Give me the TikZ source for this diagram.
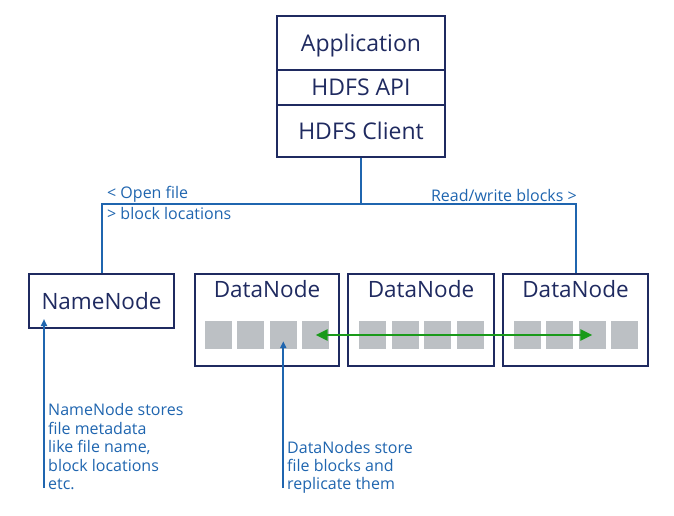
\documentclass[tikz,border=0pt]{standalone}
\usepackage{fontspec}
\setmainfont{Open Sans}
\usetikzlibrary{arrows.meta,calc}
\definecolor{navy}{HTML}{1F2A60}
\definecolor{lineblue}{HTML}{1F65AF}
\definecolor{grn}{HTML}{1A9A1A}
\definecolor{blk}{HTML}{BCC0C4}
\begin{document}
\begin{tikzpicture}[x=1pt,y=-1pt,
  box/.style={draw=navy,line width=2pt,text=navy,inner sep=0pt},
  bigtext/.style={text=navy,inner sep=0pt,font=\fontsize{22.5}{26}\selectfont},
  toptext/.style={font=\fontsize{23}{26}\selectfont,text height=17pt,text depth=0.5pt},
  blockcell/.style={fill=blk,minimum width=26.5pt,minimum height=28pt,inner sep=0pt},
  link/.style={draw=lineblue,line width=2pt},
  note/.style={text=lineblue,font=\fontsize{16}{18.4}\selectfont,inner sep=0pt,align=left},
  tip/.style={-{Triangle[length=7pt,width=6pt]}},
  dtip/.style={{Triangle[length=12pt,width=11pt]}-{Triangle[length=12pt,width=11pt]}},
]
\useasboundingbox (0,0) rectangle (674,516);
% client stack
\node[box,toptext,minimum width=168pt,minimum height=54pt] (app) at (361,43) {Application};
\node[box,toptext,minimum width=168pt,minimum height=35pt] (api) at (361,87.5) {HDFS API};
\node[box,toptext,minimum width=168pt,minimum height=52pt] (client) at (361,131) {HDFS Client};
% name node
\node[box,bigtext,text height=17pt,text depth=0.5pt,minimum width=145pt,minimum height=54pt] (nn) at (101.5,301) {NameNode};
% data nodes
\node[box,minimum width=144pt,minimum height=92pt] (dn1) at (267,320) {};
\node[box,minimum width=146pt,minimum height=92pt] (dn2) at (421,320) {};
\node[box,minimum width=145pt,minimum height=92pt] (dn3) at (575.5,320) {};
\node[bigtext,anchor=base] (dn1t) at (267,297.5) {DataNode};
\node[bigtext,anchor=base] (dn2t) at (421,297.5) {DataNode};
\node[bigtext,anchor=base] (dn3t) at (575.5,297.5) {DataNode};
% blocks
\node[blockcell] (b11) at (218.5,335) {};
\node[blockcell] (b12) at (250.5,335) {};
\node[blockcell] (b13) at (283.3,335) {};
\node[blockcell] (b14) at (315.7,335) {};
\node[blockcell] (b21) at (372.3,335) {};
\node[blockcell] (b22) at (405.3,335) {};
\node[blockcell] (b23) at (437.3,335) {};
\node[blockcell] (b24) at (470.3,335) {};
\node[blockcell] (b31) at (527.3,335) {};
\node[blockcell] (b32) at (559.3,335) {};
\node[blockcell] (b33) at (592.3,335) {};
\node[blockcell] (b34) at (624.3,335) {};
% connectors
\coordinate (bus) at (361,204);
\draw[link] (client.south) -- (client.south |- bus);
\draw[link] (nn.north) -- (nn.north |- bus) -- (dn3.north |- bus) -- (dn3.north);
\draw[grn,line width=2.5pt,dtip] (b14.center) -- (b33.center);
% labels
\node[note,anchor=base west] (lopen) at (107,198.3) {< Open file};
\node[note,anchor=base west] (lblock) at (107,219.3) {> block locations};
\node[note,anchor=base east] (lrw) at (577,201.7) {Read/write blocks >};
% notes
\coordinate (nnfoot) at (44,488);
\coordinate (dnfoot) at (283.3,488);
\draw[link,tip] (nnfoot) -- ($(nn.south -| nnfoot)+(0,-10)$);
\draw[link,tip] (dnfoot) -- ($(b13.south)+(0,-8)$);
\node[note,anchor=north west] (nnnote) at (48,403.5) {NameNode stores\\file metadata\\like file name,\\block locations\\etc.};
\node[note,anchor=north west] (dnnote) at (287,440.7) {DataNodes store\\file blocks and\\replicate them};
\end{tikzpicture}
\end{document}
